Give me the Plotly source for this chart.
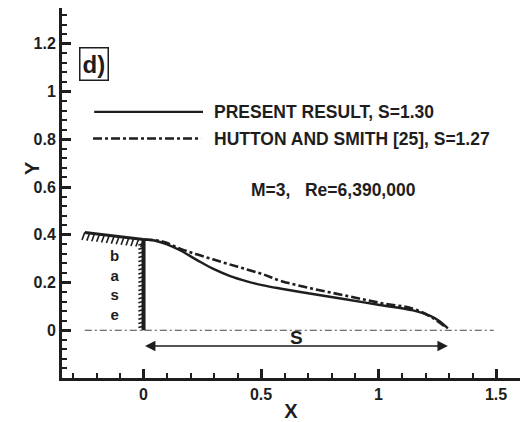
import plotly.graph_objects as go

# ---- data ----
present_x = [0.0, 0.05, 0.10, 0.155, 0.226, 0.295, 0.366, 0.44, 0.51, 0.58, 0.72, 0.865, 1.005, 1.147, 1.22, 1.26, 1.295]
present_y = [0.38, 0.375, 0.36, 0.335, 0.295, 0.258, 0.228, 0.205, 0.188, 0.175, 0.152, 0.129, 0.106, 0.083, 0.06, 0.038, 0.008]
hutton_x = [0.0, 0.08, 0.155, 0.226, 0.295, 0.366, 0.44, 0.51, 0.58, 0.72, 0.865, 1.005, 1.147, 1.23, 1.29]
hutton_y = [0.38, 0.372, 0.342, 0.318, 0.297, 0.276, 0.255, 0.234, 0.208, 0.174, 0.144, 0.115, 0.09, 0.052, 0.01]
wall_x = [-0.25, 0.0]          # upstream wall (hatched)
wall_y = [0.41, 0.38]
base_x = [0.0, 0.0]            # base (vertical step)
base_y = [0.0, 0.38]
axis_line_x = [-0.25, 1.49]    # symmetry line y=0
axis_line_y = [0.0, 0.0]
s_length = 1.295
legend_labels = ["PRESENT RESULT, S=1.30", "HUTTON AND SMITH [25], S=1.27"]
x_ticks = [0, 0.5, 1, 1.5]
x_tick_text = ["0", "0.5", "1", "1.5"]
y_ticks = [0, 0.2, 0.4, 0.6, 0.8, 1.0, 1.2]
y_tick_text = ["0", "0.2", "0.4", "0.6", "0.8", "1", "1.2"]

INK = "#1e1e1e"
FONT = "Liberation Sans, Arial, sans-serif"
XMIN, XMAX = -0.347, 1.602

fig = go.Figure()

# symmetry line
fig.add_trace(go.Scatter(x=axis_line_x, y=axis_line_y, mode="lines",
                         line=dict(color="#444", width=1.2, dash="7px,3px,2px,3px"),
                         hoverinfo="skip", showlegend=False))
# curves
fig.add_trace(go.Scatter(x=hutton_x, y=hutton_y, mode="lines", line_shape="spline",
                         line=dict(color=INK, width=2.6, dash="9px,3px,3px,3px"),
                         showlegend=False))
fig.add_trace(go.Scatter(x=present_x, y=present_y, mode="lines", line_shape="spline",
                         line=dict(color=INK, width=2.4), showlegend=False))

# wall and base
fig.add_trace(go.Scatter(x=wall_x, y=wall_y, mode="lines",
                         line=dict(color=INK, width=3), hoverinfo="skip", showlegend=False))
fig.add_trace(go.Scatter(x=base_x, y=base_y, mode="lines",
                         line=dict(color=INK, width=4), hoverinfo="skip", showlegend=False))

# hatching
hx, hy = [], []
n = 12
for i in range(n + 1):
    t = i / n
    x0 = wall_x[0] + t * (wall_x[1] - wall_x[0])
    y0 = wall_y[0] + t * (wall_y[1] - wall_y[0])
    hx += [x0, x0 - 0.012, None]
    hy += [y0, y0 - 0.032, None]
m = 21
for i in range(1, m + 1):
    t = i / (m + 1)
    y0 = base_y[0] + t * (base_y[1] - base_y[0])
    hx += [base_x[0], base_x[0] - 0.022, None]
    hy += [y0, y0 - 0.006, None]
fig.add_trace(go.Scatter(x=hx, y=hy, mode="lines", line=dict(color=INK, width=1.6),
                         hoverinfo="skip", showlegend=False))

# legend samples
fig.add_shape(type="line", x0=-0.21, x1=0.253, y0=0.915, y1=0.915,
              line=dict(color=INK, width=2.4))
fig.add_shape(type="line", x0=-0.215, x1=0.245, y0=0.803, y1=0.803,
              line=dict(color=INK, width=2.4, dash="9px,3px,3px,3px"))
fig.add_annotation(x=0.29, y=0.915, text=legend_labels[0], showarrow=False, xanchor="left",
                   font=dict(family=FONT, size=17.5, color=INK, weight="bold"))
fig.add_annotation(x=0.29, y=0.803, text=legend_labels[1], showarrow=False, xanchor="left",
                   font=dict(family=FONT, size=17.5, color=INK, weight="bold"))
fig.add_annotation(x=0.45, y=0.589, text="M=3,   Re=6,390,000", showarrow=False, xanchor="left",
                   font=dict(family=FONT, size=17.5, color=INK, weight="bold"))
fig.add_annotation(x=-0.21, y=1.115, text="d)", showarrow=False,
                   bordercolor=INK, borderwidth=1.5, borderpad=2,
                   font=dict(family=FONT, size=24, color=INK, weight="bold"))

# base letters (stacked vertically)
fig.add_annotation(x=-0.125, y=0.19, text="b<br>a<br>s<br>e", showarrow=False,
                   font=dict(family=FONT, size=15, color=INK, weight="bold"))

# S arrow
fig.add_annotation(x=s_length, y=-0.066, ax=0.0, ay=-0.066, axref="x", ayref="y",
                   xref="x", yref="y", text="", showarrow=True, arrowhead=2,
                   arrowside="end+start", arrowsize=1.3, arrowwidth=1.6, arrowcolor=INK)
fig.add_annotation(x=0.65, y=-0.03, text="S", showarrow=False,
                   font=dict(family=FONT, size=19, color=INK, weight="bold"))

# axis titles
fig.add_annotation(x=XMIN, y=0.68, xref="x", yref="y", xshift=-30, text="Y", showarrow=False,
                   textangle=-90, font=dict(family=FONT, size=20, color=INK, weight="bold"))

fig.update_layout(
    width=523, height=422,
    margin=dict(l=62, r=3, t=8, b=38),
    paper_bgcolor="white", plot_bgcolor="white",
    font=dict(family=FONT, size=16, color=INK, weight="bold"),
)
fig.update_xaxes(range=[XMIN, XMAX], tickmode="array", tickvals=x_ticks, ticktext=x_tick_text,
                 ticks="inside", ticklen=9, tickwidth=3, tickcolor=INK,
                 minor=dict(dtick=0.1, tick0=0, ticks="inside", ticklen=5, tickwidth=1.5, tickcolor=INK),
                 showline=True, linewidth=3, linecolor=INK, showgrid=False, zeroline=False,
                 title=dict(text="X", standoff=2, font=dict(size=20, weight="bold")))
fig.update_yaxes(range=[-0.2, 1.35], tickmode="array", tickvals=y_ticks, ticktext=y_tick_text,
                 ticks="inside", ticklen=9, tickwidth=3, tickcolor=INK,
                 minor=dict(dtick=0.04, tick0=0, ticks="inside", ticklen=5, tickwidth=1.5, tickcolor=INK),
                 showline=True, linewidth=3, linecolor=INK, showgrid=False, zeroline=False)

fig.write_html("out.html")
